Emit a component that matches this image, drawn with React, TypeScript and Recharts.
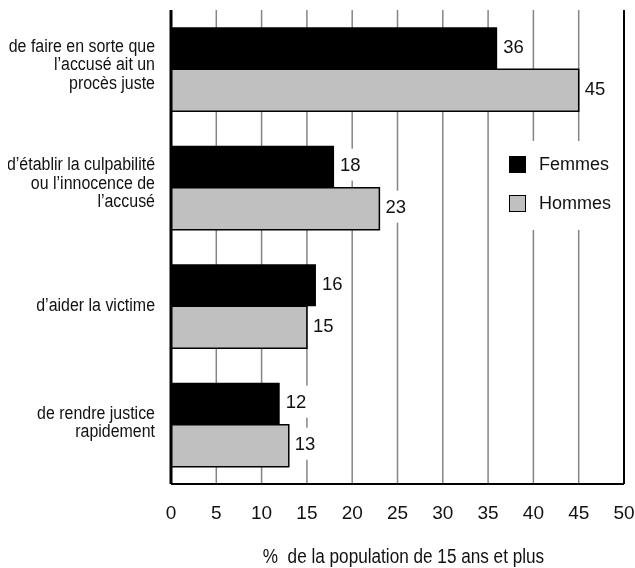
import React from "react";
import {
  BarChart,
  Bar,
  XAxis,
  YAxis,
  CartesianGrid,
  LabelList,
  Legend,
  ReferenceLine,
} from "recharts";

const categories = [
  "de faire en sorte que\nl’accusé ait un\nprocès juste",
  "d’établir la culpabilité\nou l’innocence de\nl’accusé",
  "d’aider la victime",
  "de rendre justice\nrapidement",
];
const femmes = [36, 18, 16, 12];
const hommes = [45, 23, 15, 13];
const xTicks = [0, 5, 10, 15, 20, 25, 30, 35, 40, 45, 50];
const seriesNames = ["Femmes", "Hommes"];
const axisTitle = "%\u00A0 de la population de 15 ans et plus";

const data = categories.map((name, i) => ({
  name,
  femmes: femmes[i],
  hommes: hommes[i],
}));

const FONT = "'Liberation Sans', Arial, sans-serif";
const GRAY = "#c0c0c0";
const INK = "#111";

const YTick = (props: any) => {
  const { x, y, payload } = props;
  const lines = String(payload.value).split("\n");
  const lh = 18.5;
  const start = -((lines.length - 1) / 2) * lh + 5 - (lines.length - 1) * 2;
  return (
    <g transform={`translate(${x},${y}) scale(0.84,1)`}>
      <text x={0} y={0} textAnchor="end" fontFamily={FONT} fontSize={19} fill={INK}>
        {lines.map((l, i) => (
          <tspan key={i} x={0} y={start + i * lh}>
            {l}
          </tspan>
        ))}
      </text>
    </g>
  );
};

const XTick = (props: any) => {
  const { x, y, payload } = props;
  return (
    <text
      x={x}
      y={y}
      dy="0.71em"
      textAnchor="middle"
      fontFamily={FONT}
      fontSize={19}
      fill={INK}
    >
      {payload.value}
    </text>
  );
};

const ValueLabel = (props: any) => {
  const { x, y, width, height, value } = props;
  const ex = Number(x) + Number(width);
  const cy = Number(y) + Number(height) / 2 - 2;
  const tw = String(value).length * 10.3;
  return (
    <g>
      <rect x={ex + 2} y={cy - 16} width={tw + 8} height={32} fill="#fff" />
      <text x={ex + 6} y={cy} dy="0.36em" fontFamily={FONT} fontSize={18.5} fill={INK}>
        {value}
      </text>
    </g>
  );
};

const LegendContent = () => (
  <div
    style={{
      position: "relative",
      width: 122,
      height: 89,
      background: "#fff",
      fontFamily: FONT,
      fontSize: 18,
      color: INK,
    }}
  >
    {seriesNames.map((n, i) => (
      <div
        key={n}
        style={{
          position: "absolute",
          left: 11,
          top: 13 + i * 39,
          height: 20,
          display: "flex",
          alignItems: "center",
          whiteSpace: "nowrap",
        }}
      >
        <span
          style={{
            display: "inline-block",
            boxSizing: "border-box",
            width: 17,
            height: 17,
            background: i === 0 ? "#000" : GRAY,
            border: i === 0 ? "none" : "1.5px solid #000",
            marginRight: 13,
          }}
        />
        <span>{n}</span>
      </div>
    ))}
  </div>
);

export default function App() {
  return (
    <div style={{ position: "fixed", left: 8, top: 8, width: 627, height: 560 }}>
      <BarChart
        width={627}
        height={560}
        data={data}
        layout="vertical"
        margin={{ top: 2, right: 11, left: 0, bottom: 0 }}
        barCategoryGap="14.5%"
        barGap={0}
      >
        <CartesianGrid horizontal={false} stroke="#858585" strokeWidth={1.5} />
        <XAxis
          type="number"
          domain={[0, 50]}
          ticks={xTicks}
          interval={0}
          height={84}
          tickLine={false}
          tickSize={0}
          tickMargin={22}
          axisLine={{ stroke: "#000", strokeWidth: 2 }}
          tick={<XTick />}
          label={(p: any) => {
            const vb = p.viewBox || {};
            const cx = vb.x + vb.width / 2 + 6;
            return (
              <g transform={`translate(${cx},${vb.y + 79}) scale(0.88,1)`}>
                <text x={0} y={0} textAnchor="middle" fontFamily={FONT} fontSize={19.5} fill={INK}>
                  {axisTitle}
                </text>
              </g>
            );
          }}
        />
        <XAxis
          xAxisId="top"
          type="number"
          domain={[0, 50]}
          orientation="top"
          height={0}
          tick={false}
          tickLine={false}
          axisLine={{ stroke: "#000", strokeWidth: 1.5 }}
        />
        <YAxis
          type="category"
          dataKey="name"
          width={163}
          tickLine={false}
          tickSize={0}
          tickMargin={16}
          interval={0}
          axisLine={{ stroke: "#000", strokeWidth: 3 }}
          tick={<YTick />}
        />
        <ReferenceLine x={50} stroke="#000" strokeWidth={2} />
        <Legend
          layout="vertical"
          align="center"
          verticalAlign="middle"
          wrapperStyle={{ left: 490, top: 133, width: 122, height: 89 }}
          content={<LegendContent />}
        />
        <Bar dataKey="femmes" name={seriesNames[0]} fill="#000" isAnimationActive={false}>
          <LabelList dataKey="femmes" content={<ValueLabel />} />
        </Bar>
        <Bar
          dataKey="hommes"
          name={seriesNames[1]}
          fill={GRAY}
          stroke="#000"
          strokeWidth={1.5}
          isAnimationActive={false}
        >
          <LabelList dataKey="hommes" content={<ValueLabel />} />
        </Bar>
      </BarChart>
    </div>
  );
}
